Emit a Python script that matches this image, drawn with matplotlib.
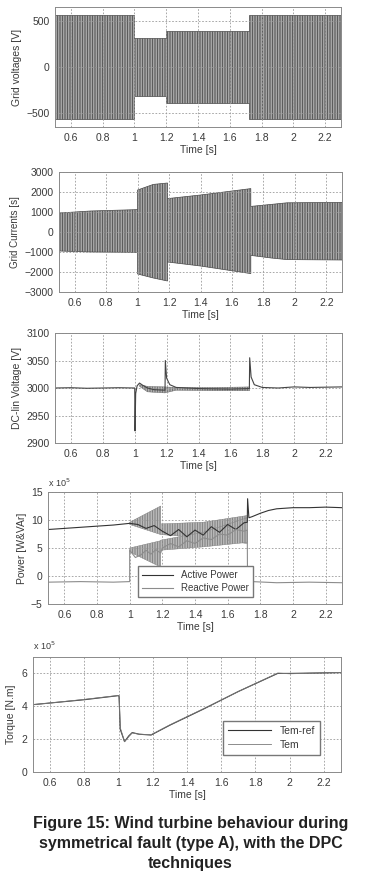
import numpy as np
import matplotlib.pyplot as plt

plt.rcParams['font.family'] = ['Liberation Sans', 'DejaVu Sans']
plt.rcParams['hatch.linewidth'] = 0.6

# ---- data (time in s) ----
# grid voltages: envelope of the 3-phase voltages
t_volt = [0.5, 1.0, 1.0, 1.2, 1.2, 1.72, 1.72, 2.3]
volt_up = [565, 565, 315, 315, 392, 392, 565, 565]
volt_lo = [-565, -565, -315, -315, -392, -392, -565, -565]

# grid currents: envelope
t_cur = [0.5, 0.7, 1.0, 1.0, 1.1, 1.19, 1.19, 1.4, 1.72, 1.72, 1.85, 1.95, 2.3]
cur_up = [950, 1050, 1120, 2100, 2380, 2450, 1670, 1850, 2170, 1280, 1380, 1460, 1480]
cur_lo = [-950, -1000, -1020, -2100, -2300, -2450, -1500, -1700, -2080, -1170, -1300, -1380, -1400]

# DC-link voltage
t_dc = [0.5, 0.6, 0.7, 0.8, 0.9, 1.0, 1.002, 1.006, 1.015, 1.03, 1.05, 1.08, 1.12, 1.19,
        1.192, 1.2, 1.22, 1.26, 1.4, 1.6, 1.719, 1.721, 1.73, 1.75, 1.8, 1.9, 2.0, 2.1, 2.3]
dc = [3000, 3000.5, 2999.5, 3000, 3000.5, 3000, 2922, 2990, 3004, 3009, 3005, 3000, 2997, 2996,
      3050, 3018, 3006, 3001, 2999, 2998, 2999, 3055, 3020, 3006, 3001, 3000, 3002, 3001, 3002]
t_dc_band = [1.03, 1.08, 1.19, 1.26, 1.5, 1.72]
dc_band_up = [3006, 3003, 3002, 3001, 3001, 3002]
dc_band_lo = [3003, 2993, 2991, 2996, 2995, 2995]

# active / reactive power [x1e5 W, VAr]
t_p = [0.5, 0.6, 0.7, 0.8, 0.9, 1.0, 1.05, 1.1, 1.15, 1.19, 1.2, 1.25, 1.3, 1.35, 1.4, 1.45,
       1.5, 1.55, 1.6, 1.65, 1.7, 1.72, 1.722, 1.73, 1.75, 1.8, 1.85, 1.9, 1.95, 2.0, 2.1, 2.2, 2.3]
p_act = [8.3, 8.5, 8.7, 8.9, 9.1, 9.4, 9.2, 8.5, 9.0, 8.2, 8.0, 7.2, 8.3, 7.0, 8.2, 7.3,
         8.8, 7.8, 9.2, 8.3, 9.5, 9.6, 13.8, 10.4, 10.6, 11.2, 11.7, 12.0, 12.1, 12.2, 12.2, 12.3, 12.2]
t_q = [0.5, 0.7, 0.9, 1.0, 1.0, 1.035, 1.07, 1.1, 1.13, 1.16, 1.19, 1.2, 1.25, 1.3, 1.35, 1.4, 1.45,
       1.5, 1.55, 1.6, 1.65, 1.7, 1.72, 1.722, 1.725, 1.73, 1.75, 1.9, 2.1, 2.3]
q_react = [-1.1, -1.0, -1.1, -1.0, 4.6, 3.3, 3.8, 4.6, 3.9, 4.7, 4.1, 5.0, 5.8, 5.2, 6.3, 5.8, 6.8,
           6.5, 7.5, 7.3, 8.3, 8.0, 8.2, -3.5, 0.5, -1.5, -1.0, -1.2, -1.1, -1.2]
t_band = [1.0, 1.19, 1.19, 1.45, 1.72]
p_band_up = [9.6, 12.5, 9.3, 9.6, 10.8]
p_band_lo = [9.2, 7.4, 7.4, 6.8, 5.8]
q_band_up = [5.0, 6.3, 6.4, 7.8, 10.4]
q_band_lo = [4.3, 1.6, 4.6, 5.2, 6.0]

# electromagnetic torque [x1e5 N.m]
t_tem = [0.5, 0.6, 0.8, 1.0, 1.003, 1.01, 1.035, 1.06, 1.08, 1.12, 1.19, 1.3, 1.5, 1.7, 1.93, 2.0, 2.3]
tem_ref = [4.1, 4.2, 4.4, 4.65, 4.6, 2.6, 1.85, 2.2, 2.4, 2.3, 2.25, 2.85, 3.85, 4.9, 6.0, 6.0, 6.05]
tem = [4.1, 4.2, 4.42, 4.66, 4.6, 2.7, 1.85, 2.15, 2.38, 2.3, 2.27, 2.87, 3.87, 4.9, 6.02, 5.98, 6.06]

xticks = [0.6, 0.8, 1.0, 1.2, 1.4, 1.6, 1.8, 2.0, 2.2]
xticklabels = ['0.6', '0.8', '1', '1.2', '1.4', '1.6', '1.8', '2', '2.2']

txt = '#3a3a3a'
W, H = 370, 872
fig = plt.figure(figsize=(W / 100, H / 100), dpi=100)


def make_ax(l, r, t, b):
    ax = fig.add_axes([l / W, 1 - b / H, (r - l) / W, (b - t) / H])
    ax.set_xlim(0.5, 2.3)
    ax.set_xticks(xticks)
    ax.set_xticklabels(xticklabels)
    ax.grid(True, linestyle=(0, (2, 2)), color='#9a9a9a', linewidth=0.6)
    ax.tick_params(labelsize=7.5, colors=txt, length=0, pad=4)
    for s in ax.spines.values():
        s.set_color('#8a8a8a')
        s.set_linewidth(0.7)
    ax.set_xlabel('Time [s]', fontsize=7.5, color=txt, labelpad=2)
    return ax


# plot A : grid voltages
ax = make_ax(55, 341, 7, 127)
ax.fill_between(t_volt, volt_lo, volt_up, facecolor='#c4c4c4', edgecolor='#4a4a4a',
                hatch='|' * 10, linewidth=0.5)
ax.set_ylim(-650, 650)
ax.set_yticks([-500, 0, 500])
ax.set_ylabel('Grid voltages [V]', fontsize=7.5, color=txt, labelpad=3)

# plot B : grid currents
ax = make_ax(59, 342, 172, 292)
ax.fill_between(t_cur, cur_lo, cur_up, facecolor='#c4c4c4', edgecolor='#4a4a4a',
                hatch='|' * 10, linewidth=0.5)
ax.set_ylim(-3000, 3000)
ax.set_yticks([-3000, -2000, -1000, 0, 1000, 2000, 3000])
ax.set_ylabel('Grid Currents [s]', fontsize=7, color=txt, labelpad=3)

# plot C : DC-link voltage
ax = make_ax(55, 342, 333, 443)
ax.fill_between(t_dc_band, dc_band_lo, dc_band_up, facecolor='#c8c8c8', edgecolor='#666666',
                hatch='|' * 10, linewidth=0.3)
ax.plot(t_dc, dc, color='#444444', linewidth=0.8)
ax.set_ylim(2900, 3100)
ax.set_yticks([2900, 2950, 3000, 3050, 3100])
ax.set_ylabel('DC-lin Voltage [V]', fontsize=7.5, color=txt, labelpad=3)

# plot D : active / reactive power
ax = make_ax(48, 342, 492, 604)
ax.fill_between(t_band, p_band_lo, p_band_up, facecolor='#cccccc', edgecolor='#7a7a7a',
                hatch='|' * 10, linewidth=0.3)
ax.fill_between(t_band, q_band_lo, q_band_up, facecolor='#cccccc', edgecolor='#7a7a7a',
                hatch='|' * 10, linewidth=0.3)
ax.plot(t_p, p_act, color='#333333', linewidth=0.8, label='Active Power')
ax.plot(t_q, q_react, color='#8c8c8c', linewidth=0.8, label='Reactive Power')
ax.set_ylim(-5, 15)
ax.set_yticks([-5, 0, 5, 10, 15])
ax.set_ylabel('Power [W&VAr]', fontsize=7.5, color=txt, labelpad=3)
ax.text(0.5, 15.6, r'x 10$^5$', fontsize=6.5, color=txt, ha='left', va='bottom')
leg = ax.legend(loc='lower left', bbox_to_anchor=(0.29, 0.02), fontsize=7, handlelength=3.2,
                frameon=True, fancybox=False, framealpha=1, edgecolor='#777777',
                borderpad=0.4, labelspacing=0.3)
for tx in leg.get_texts():
    tx.set_color(txt)

# plot E : torque
ax = make_ax(33, 341, 657, 772)
ax.plot(t_tem, tem_ref, color='#333333', linewidth=0.8, label='Tem-ref')
ax.plot(t_tem, tem, color='#7a7a7a', linewidth=0.6, label='Tem')
ax.set_ylim(0, 7)
ax.set_yticks([0, 2, 4, 6])
ax.set_ylabel('Torque [N.m]', fontsize=7.5, color=txt, labelpad=4)
ax.text(0.5, 7.3, r'x 10$^5$', fontsize=6.5, color=txt, ha='left', va='bottom')
leg = ax.legend(loc='lower right', bbox_to_anchor=(0.95, 0.10), fontsize=7.5, handlelength=4.2,
                frameon=True, fancybox=False, framealpha=1, edgecolor='#777777',
                borderpad=0.5, labelspacing=0.4)
for tx in leg.get_texts():
    tx.set_color(txt)

# caption
caption = ['Figure 15: Wind turbine behaviour during',
           'symmetrical fault (type A), with the DPC',
           'techniques']
for i, line in enumerate(caption):
    fig.text(0.515, 1 - (823 + 20 * i) / H, line, fontsize=11.5, fontweight='bold',
             color='#222222', ha='center', va='center')

fig.savefig('out.png', dpi=100)
